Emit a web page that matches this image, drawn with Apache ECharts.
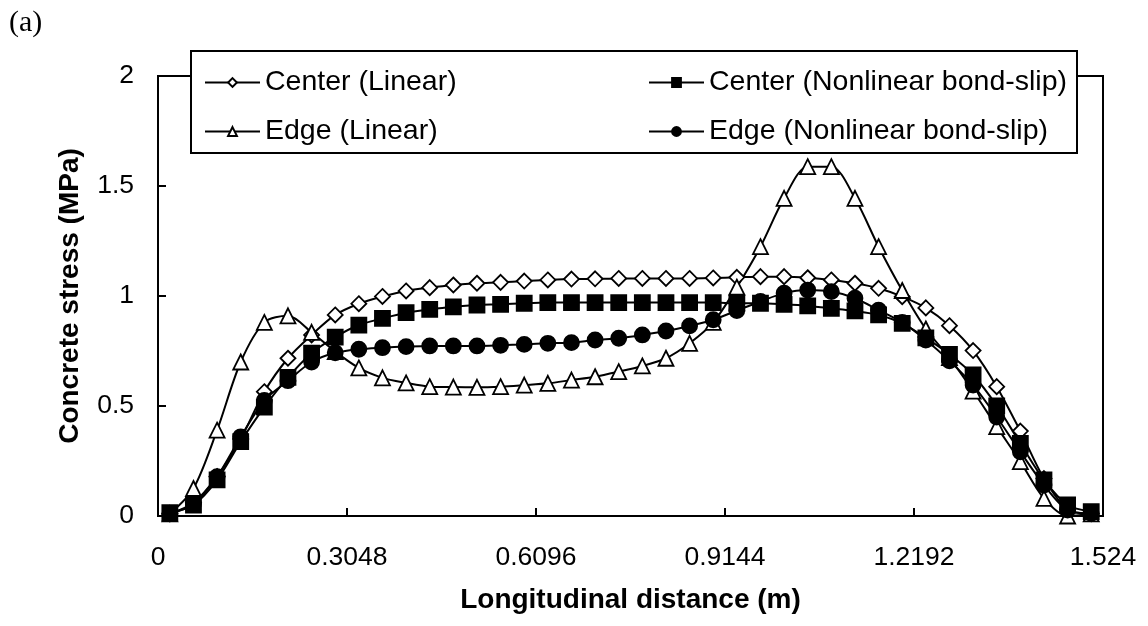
<!DOCTYPE html>
<html>
<head>
<meta charset="utf-8">
<script src="https://cdn.jsdelivr.net/npm/echarts@6/dist/echarts.min.js"></script>
<style>
  html, body { margin: 0; padding: 0; background: #fff; }
  #chart { width: 1148px; height: 626px; }
</style>
</head>
<body>
<div id="chart"></div>
<script>
// Longitudinal positions of the stations (m)
const xPositions = [0.0191, 0.0572, 0.0953, 0.1334, 0.1715, 0.2096, 0.2477, 0.2858, 0.3239, 0.3620,
  0.4001, 0.4382, 0.4763, 0.5144, 0.5525, 0.5906, 0.6287, 0.6668, 0.7049, 0.7430,
  0.7811, 0.8192, 0.8573, 0.8954, 0.9335, 0.9716, 1.0097, 1.0478, 1.0859, 1.1240,
  1.1621, 1.2002, 1.2383, 1.2764, 1.3145, 1.3526, 1.3907, 1.4288, 1.4669, 1.5050];

const centerLinear = [0.01, 0.06, 0.18, 0.35, 0.565, 0.717, 0.823, 0.914, 0.965, 0.998,
  1.023, 1.038, 1.05, 1.058, 1.062, 1.068, 1.073, 1.077, 1.078, 1.08,
  1.08, 1.08, 1.08, 1.082, 1.085, 1.088, 1.088, 1.083, 1.073, 1.058,
  1.035, 0.997, 0.946, 0.865, 0.752, 0.588, 0.386, 0.17, 0.03, 0.01];

const centerNonlinear = [0.015, 0.05, 0.164, 0.338, 0.495, 0.63, 0.74, 0.813, 0.868, 0.898,
  0.924, 0.939, 0.951, 0.959, 0.962, 0.967, 0.97, 0.97, 0.97, 0.97,
  0.97, 0.97, 0.97, 0.97, 0.967, 0.967, 0.962, 0.955, 0.944, 0.932,
  0.914, 0.876, 0.81, 0.735, 0.641, 0.501, 0.33, 0.164, 0.05, 0.02];

const edgeLinear = [0.01, 0.125, 0.39, 0.70, 0.88, 0.91, 0.835, 0.747, 0.673, 0.628,
  0.605, 0.588, 0.586, 0.585, 0.588, 0.595, 0.603, 0.618, 0.633, 0.656,
  0.682, 0.717, 0.785, 0.88, 1.04, 1.224, 1.444, 1.588, 1.588, 1.444,
  1.224, 1.025, 0.85, 0.72, 0.568, 0.406, 0.247, 0.08, 0.0, 0.01];

const edgeNonlinear = [0.01, 0.055, 0.179, 0.36, 0.525, 0.615, 0.70, 0.742, 0.758, 0.765,
  0.77, 0.773, 0.773, 0.773, 0.776, 0.78, 0.785, 0.788, 0.80, 0.808,
  0.823, 0.841, 0.864, 0.892, 0.934, 0.975, 1.013, 1.027, 1.02, 0.99,
  0.936, 0.88, 0.80, 0.705, 0.595, 0.45, 0.292, 0.141, 0.027, 0.012];

const seriesNames = ['Center (Linear)', 'Center (Nonlinear bond-slip)', 'Edge (Linear)', 'Edge (Nonlinear bond-slip)'];
const xTickLabels = ['0', '0.3048', '0.6096', '0.9144', '1.2192', '1.524'];
const yTickLabels = ['0', '0.5', '1', '1.5', '2'];

const pairs = vals => xPositions.map((x, i) => [x, vals[i]]);

const font = '"Liberation Sans", Arial, sans-serif';

function lineSeries(name, vals, symbol, fill, size) {
  return {
    name: name,
    type: 'line',
    data: pairs(vals),
    smooth: 0.3,
    symbol: symbol,
    symbolSize: size,
    showAllSymbol: true,
    lineStyle: { color: '#000', width: 2 },
    itemStyle: { color: fill, borderColor: '#000', borderWidth: 1.8 },
    emphasis: { disabled: true },
    animation: false
  };
}

const chart = echarts.init(document.getElementById('chart'), null, { renderer: 'canvas' });

const legendCommon = {
  orient: 'vertical',
  top: 63,
  itemWidth: 55,
  itemHeight: 11,
  itemGap: 20,
  selectedMode: false,
  z: 20,
  textStyle: { fontFamily: font, fontSize: 28.5, color: '#000', lineHeight: 28 }
};

chart.setOption({
  animation: false,
  backgroundColor: '#fff',
  grid: {
    left: 158, right: 45, top: 76, bottom: 110,
    show: true, borderColor: '#000', borderWidth: 2
  },
  graphic: [
    {
      type: 'rect', z: 10,
      shape: { x: 191, y: 51, width: 886, height: 102 },
      style: { fill: '#fff', stroke: '#000', lineWidth: 2 }
    },
    {
      type: 'text', left: 9, top: 8, z: 10,
      style: {
        text: '(a)',
        fontSize: 30,
        fontFamily: '"Liberation Serif", "Times New Roman", serif',
        fill: '#000'
      }
    }
  ],
  legend: [
    Object.assign({ left: 199, data: [seriesNames[0], seriesNames[2]] }, legendCommon),
    Object.assign({ left: 643, data: [seriesNames[1], seriesNames[3]] }, legendCommon)
  ],
  xAxis: {
    type: 'value',
    min: 0, max: 1.524, interval: 0.3048,
    name: 'Longitudinal distance (m)',
    nameLocation: 'middle',
    nameGap: 70,
    nameTextStyle: { fontFamily: font, fontSize: 28, fontWeight: 'bold', color: '#000' },
    axisLine: { lineStyle: { color: '#000', width: 2 } },
    axisTick: { inside: true, length: 8, lineStyle: { color: '#000', width: 2 } },
    axisLabel: {
      fontFamily: font, fontSize: 26.5, color: '#000', margin: 28,
      formatter: v => xTickLabels[Math.round(v / 0.3048)]
    },
    splitLine: { show: false }
  },
  yAxis: {
    type: 'value',
    min: 0, max: 2, interval: 0.5,
    name: 'Concrete stress (MPa)',
    nameLocation: 'middle',
    nameGap: 74,
    nameTextStyle: { fontFamily: font, fontSize: 28, fontWeight: 'bold', color: '#000' },
    axisLine: { lineStyle: { color: '#000', width: 2 } },
    axisTick: { inside: true, length: 8, lineStyle: { color: '#000', width: 2 } },
    axisLabel: {
      fontFamily: font, fontSize: 26.5, color: '#000', margin: 24,
      formatter: v => yTickLabels[Math.round(v / 0.5)]
    },
    splitLine: { show: false }
  },
  series: [
    lineSeries(seriesNames[0], centerLinear, 'diamond', '#fff', 15),
    lineSeries(seriesNames[2], edgeLinear, 'triangle', '#fff', 15),
    lineSeries(seriesNames[3], edgeNonlinear, 'circle', '#000', 15),
    lineSeries(seriesNames[1], centerNonlinear, 'rect', '#000', 15)
  ]
});
</script>
</body>
</html>
